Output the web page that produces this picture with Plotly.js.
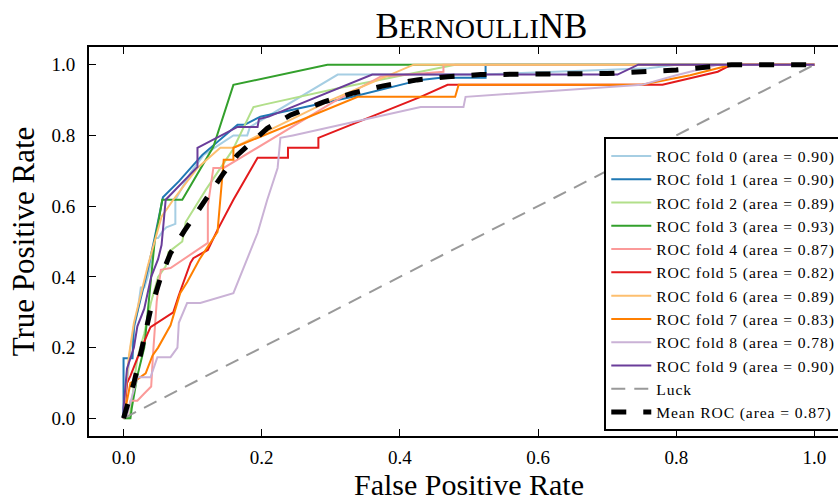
<!DOCTYPE html>
<html><head><meta charset="utf-8">
<script src="https://cdn.plot.ly/plotly-3.0.1.min.js"></script>
<style>html,body{margin:0;padding:0;overflow:hidden;background:#fff;width:838px;height:502px}
.legendtext{letter-spacing:0.9px}</style>
</head><body><div id="chart" style="width:849px;height:502px"></div>
<script>
const fold0_fpr=[0,0,0.005,0.01,0.02,0.025,0.03,0.035,0.042,0.046,0.05,0.057,0.062,0.075,0.075,0.097,0.116,0.159,0.179,0.183,0.31,0.52,0.76,0.8,1];
const fold0_tpr=[0,0.03,0.1,0.2,0.3,0.37,0.37,0.4,0.46,0.51,0.51,0.53,0.54,0.55,0.618,0.694,0.745,0.8,0.8,0.824,0.972,0.972,0.99,1,1];
const fold1_fpr=[0,0,0.013,0.015,0.025,0.035,0.045,0.057,0.08,0.114,0.159,0.165,0.175,0.198,0.333,0.43,0.459,0.524,0.524,1];
const fold1_tpr=[0,0.17,0.17,0.26,0.34,0.42,0.51,0.625,0.67,0.745,0.82,0.83,0.83,0.853,0.91,0.957,0.963,0.963,1,1];
const fold2_fpr=[0,0.008,0.012,0.015,0.02,0.03,0.04,0.05,0.061,0.065,0.085,0.09,0.119,0.158,0.188,0.203,0.314,0.48,1];
const fold2_tpr=[0,0,0.04,0.1,0.17,0.24,0.33,0.4,0.43,0.47,0.5,0.555,0.646,0.759,0.88,0.887,0.935,1,1];
const fold3_fpr=[0,0.01,0.012,0.015,0.02,0.03,0.035,0.04,0.045,0.05,0.056,0.085,0.13,0.159,0.295,1];
const fold3_tpr=[0,0,0.03,0.06,0.12,0.2,0.3,0.4,0.5,0.55,0.618,0.618,0.768,0.943,1,1];
const fold4_fpr=[0,0.005,0.01,0.02,0.03,0.04,0.043,0.048,0.054,0.068,0.122,0.122,0.13,0.145,0.304,0.372,0.463,0.463,1];
const fold4_tpr=[0,0.01,0.05,0.05,0.07,0.09,0.19,0.33,0.42,0.425,0.496,0.6,0.708,0.708,0.895,0.966,0.98,1,1];
const fold5_fpr=[0,0.002,0.005,0.01,0.02,0.03,0.035,0.039,0.072,0.08,0.097,0.101,0.122,0.136,0.159,0.194,0.238,0.238,0.282,0.282,0.43,0.469,0.78,0.86,0.88,1];
const fold5_tpr=[0,0.03,0.1,0.12,0.17,0.22,0.24,0.258,0.3,0.348,0.44,0.453,0.476,0.533,0.618,0.737,0.737,0.765,0.765,0.793,0.909,0.943,0.943,0.98,1,1];
const fold6_fpr=[0,0.003,0.008,0.015,0.025,0.035,0.045,0.055,0.072,0.107,0.14,0.159,0.3,0.42,1];
const fold6_tpr=[0,0.08,0.18,0.27,0.35,0.43,0.5,0.57,0.618,0.708,0.765,0.765,0.9,1,1];
const fold7_fpr=[0,0.005,0.01,0.02,0.032,0.042,0.05,0.068,0.082,0.092,0.11,0.136,0.145,0.159,0.159,0.339,0.48,0.485,0.75,0.82,0.88,1];
const fold7_tpr=[0,0.05,0.1,0.11,0.127,0.178,0.2,0.263,0.354,0.385,0.45,0.527,0.731,0.731,0.765,0.909,0.909,0.943,0.943,0.97,1,1];
const fold8_fpr=[0,0.005,0.02,0.039,0.049,0.068,0.078,0.08,0.092,0.111,0.159,0.194,0.208,0.223,0.227,0.245,0.43,0.492,0.495,0.75,0.8,0.86,1];
const fold8_tpr=[0,0.01,0.116,0.116,0.173,0.173,0.2,0.27,0.326,0.326,0.354,0.524,0.618,0.708,0.793,0.8,0.88,0.88,0.909,0.943,0.97,1,1];
const fold9_fpr=[0,0,0.005,0.01,0.015,0.02,0.03,0.04,0.05,0.055,0.061,0.107,0.107,0.165,0.194,0.196,0.21,0.36,0.715,0.745,1];
const fold9_tpr=[0,0.03,0.14,0.17,0.2,0.26,0.31,0.4,0.45,0.49,0.618,0.711,0.765,0.824,0.824,0.846,0.853,0.972,0.972,1,1];
const mean_fpr=[0,0.005,0.015,0.025,0.039,0.054,0.068,0.088,0.116,0.145,0.165,0.208,0.242,0.29,0.333,0.376,0.425,0.469,0.517,0.7,0.8,0.88,1];
const mean_tpr=[0,0.03,0.1,0.184,0.306,0.4,0.467,0.53,0.612,0.694,0.745,0.82,0.858,0.895,0.92,0.94,0.957,0.966,0.972,0.975,0.985,1,1];
const luck_x=[0,1];
const luck_y=[0,1];
const fold_areas=["0.90","0.90","0.89","0.93","0.87","0.82","0.89","0.83","0.78","0.90"];
const mean_area="0.87";
const fold_colors=["#a6cee3","#1f78b4","#b2df8a","#33a02c","#fb9a99","#e31a1c","#fdbf6f","#ff7f00","#cab2d6","#6a3d9a"];
const xTicks=[0,0.2,0.4,0.6,0.8,1.0];
const yTicks=[0,0.2,0.4,0.6,0.8,1.0];

const folds=[[fold0_fpr,fold0_tpr],[fold1_fpr,fold1_tpr],[fold2_fpr,fold2_tpr],[fold3_fpr,fold3_tpr],[fold4_fpr,fold4_tpr],[fold5_fpr,fold5_tpr],[fold6_fpr,fold6_tpr],[fold7_fpr,fold7_tpr],[fold8_fpr,fold8_tpr],[fold9_fpr,fold9_tpr]];
const FONT='"Liberation Serif", "DejaVu Serif", serif';
const traces=folds.map((f,i)=>({x:f[0],y:f[1],type:'scatter',mode:'lines',
  name:'ROC fold '+i+' (area = '+fold_areas[i]+')',line:{color:fold_colors[i],width:2}}));
traces.push({x:luck_x,y:luck_y,type:'scatter',mode:'lines',name:'Luck',line:{color:'#999999',width:2,dash:'14px,9px'}});
traces.push({x:mean_fpr,y:mean_tpr,type:'scatter',mode:'lines',name:'Mean ROC (area = '+mean_area+')',line:{color:'#000000',width:5,dash:'15px,17px'}});

const ax={showgrid:false,zeroline:false,showline:true,linewidth:2,linecolor:'#000',mirror:'allticks',
  ticks:'inside',ticklen:7,tickwidth:1,tickcolor:'#000',tickformat:'.1f',tickfont:{family:FONT,size:19,color:'#000'},range:[-0.05,1.05]};
const layout={width:849,height:502,margin:{l:89,r:0,t:47,b:66},paper_bgcolor:'#fff',plot_bgcolor:'#fff',
  title:{text:'B<span style="font-size:28px">ERNOULLI</span>NB',font:{family:FONT,size:35,color:'#000'},x:0.567,xanchor:'center',y:0.925,yanchor:'bottom'},
  xaxis:Object.assign({},ax,{tickvals:xTicks,ticklabelstandoff:3,title:{text:'False Positive Rate',font:{family:FONT,size:30,color:'#000'},standoff:5}}),
  yaxis:Object.assign({},ax,{tickvals:yTicks,ticklabelstandoff:8,title:{text:'True Positive Rate',font:{family:FONT,size:31,color:'#000'},standoff:8}}),
  legend:{x:0.678,y:0.012,xanchor:'left',yanchor:'bottom',bgcolor:'#fff',bordercolor:'#000',borderwidth:2,
    font:{family:FONT,size:15.6,color:'#000'},tracegroupgap:0,itemwidth:40},
  showlegend:true};
Plotly.newPlot('chart',traces,layout,{displayModeBar:false,staticPlot:true});
</script></body></html>
